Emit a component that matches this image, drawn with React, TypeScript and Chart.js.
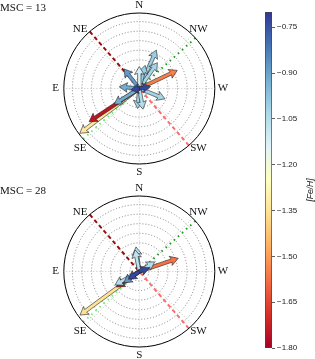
import React, { useEffect, useRef } from 'react';
import { Chart, registerables } from 'chart.js';
Chart.register(...registerables);

// ---------- data ----------
const RMAX = 7.9;
const RINGS = [1, 2, 3, 4, 5, 6, 7];
const SPOKES = [0, 45, 90, 135, 180, 225, 270, 315];
const COMPASS_LABELS = ['W', 'NW', 'N', 'NE', 'E', 'SE', 'S', 'SW'];
const COMPASS_ANGLES = [0, 45, 90, 135, 180, 225, 270, 315];
const LABEL_R = 8.75;

const TITLE_13 = 'MSC = 13';
const ANG_13 = [217, 213.5, 25.5, 66, 55, 76, 90, 128, 175, -22, -95, -80, 212, 10, 190];
const LEN_13 = [7.8, 6.3, 4.4, 4.4, 3.3, 2.5, 2.3, 2.6, 2.1, 2.9, 2.1, 2.2, 3.1, 1.2, 0.9];
const FEH_13 = [-1.33, -1.75, -1.55, -1.0, -1.02, -1.0, -1.12, -0.88, -0.92, -1.02, -1.02, -1.05, -0.92, -0.73, -0.73];

const TITLE_28 = 'MSC = 28';
const ANG_28 = [216.3, 214, 18.7, 97.6, 101, 32, 209, 216, 215, 20];
const LEN_28 = [7.7, 2.9, 4.3, 2.6, 2.3, 1.9, 2.9, 2.0, 1.4, 1.1];
const FEH_28 = [-1.35, -1.75, -1.57, -1.05, -1.07, -1.05, -1.05, -0.88, -0.73, -0.73];

const RED_LINE_ANGLE = 131;
const GREEN_LINE_ANGLE = 42;

const FEH_MIN = -1.8;
const FEH_MAX = -0.7;
const CBAR_TICKS = [-1.8, -1.65, -1.5, -1.35, -1.2, -1.05, -0.9, -0.75];
const CBAR_LABEL = '[Fe/H]';

const RDYLBU = ['#a50026', '#d73027', '#f46d43', '#fdae61', '#fee090', '#ffffbf', '#e0f3f8', '#abd9e9', '#74add1', '#4575b4', '#313695'];

// ---------- helpers ----------
function hexToRgb(h: string) {
  const n = parseInt(h.slice(1), 16);
  return [(n >> 16) & 255, (n >> 8) & 255, n & 255];
}
function cmap(v: number) {
  let t = (v - FEH_MIN) / (FEH_MAX - FEH_MIN);
  t = Math.max(0, Math.min(1, t));
  const f = t * (RDYLBU.length - 1);
  const i = Math.min(RDYLBU.length - 2, Math.floor(f));
  const u = f - i;
  const a = hexToRgb(RDYLBU[i]);
  const b = hexToRgb(RDYLBU[i + 1]);
  const c = a.map((x, k) => Math.round(x + (b[k] - x) * u));
  return `rgb(${c[0]},${c[1]},${c[2]})`;
}
const rad = (d: number) => (d * Math.PI) / 180;

function drawArrow(ctx: CanvasRenderingContext2D, x0: number, y0: number, x1: number, y1: number, color: string) {
  const dx = x1 - x0, dy = y1 - y0;
  const L = Math.hypot(dx, dy);
  if (L < 0.5) return;
  const ux = dx / L, uy = dy / L;
  const px = -uy, py = ux;
  let sw = 1.7, hw = 4.8, hl = 8, hal = 7;
  if (L < hl * 1.1) {
    const s = L / (hl * 1.1);
    hl *= s; hal *= s;
  }
  const nx = x1 - ux * hal, ny = y1 - uy * hal;
  const bx = x1 - ux * hl, by = y1 - uy * hl;
  ctx.beginPath();
  ctx.moveTo(x0 + px * sw, y0 + py * sw);
  ctx.lineTo(nx + px * sw, ny + py * sw);
  ctx.lineTo(bx + px * hw, by + py * hw);
  ctx.lineTo(x1, y1);
  ctx.lineTo(bx - px * hw, by - py * hw);
  ctx.lineTo(nx - px * sw, ny - py * sw);
  ctx.lineTo(x0 - px * sw, y0 - py * sw);
  ctx.closePath();
  ctx.fillStyle = color;
  ctx.fill();
  ctx.lineWidth = 0.6;
  ctx.strokeStyle = '#222';
  ctx.setLineDash([]);
  ctx.stroke();
}

const polarPlugin = {
  id: 'polarDecor',
  beforeDatasetsDraw(chart: any) {
    const { ctx } = chart;
    const x = chart.scales.x, y = chart.scales.y;
    const cx = x.getPixelForValue(0), cy = y.getPixelForValue(0);
    const rpx = (r: number) => x.getPixelForValue(r) - cx;
    ctx.save();
    ctx.lineWidth = 0.7;
    ctx.setLineDash([1, 2]);
    ctx.strokeStyle = '#555';
    RINGS.forEach((r) => {
      ctx.beginPath();
      ctx.arc(cx, cy, rpx(r), 0, Math.PI * 2);
      ctx.stroke();
    });
    ctx.strokeStyle = '#aaa';
    SPOKES.forEach((a) => {
      ctx.beginPath();
      ctx.moveTo(cx, cy);
      ctx.lineTo(x.getPixelForValue(RMAX * Math.cos(rad(a))), y.getPixelForValue(RMAX * Math.sin(rad(a))));
      ctx.stroke();
    });
    ctx.restore();
  },
  afterDatasetsDraw(chart: any) {
    const { ctx } = chart;
    const x = chart.scales.x, y = chart.scales.y;
    const cx = x.getPixelForValue(0), cy = y.getPixelForValue(0);
    ctx.save();
    chart.data.datasets.forEach((ds: any, i: number) => {
      if (!ds.quiver) return;
      const el = chart.getDatasetMeta(i).data[0];
      drawArrow(ctx, cx, cy, el.x, el.y, ds.quiverColor);
    });
    ctx.setLineDash([]);
    ctx.strokeStyle = '#000';
    ctx.lineWidth = 1;
    ctx.beginPath();
    ctx.arc(cx, cy, x.getPixelForValue(RMAX) - cx, 0, Math.PI * 2);
    ctx.stroke();
    ctx.fillStyle = '#111';
    ctx.font = '11px "Liberation Serif", "DejaVu Serif", serif';
    ctx.textAlign = 'center';
    ctx.textBaseline = 'middle';
    COMPASS_LABELS.forEach((lab, k) => {
      const a = rad(COMPASS_ANGLES[k]);
      ctx.fillText(lab, x.getPixelForValue(LABEL_R * Math.cos(a)), y.getPixelForValue(LABEL_R * Math.sin(a)));
    });
    const t = chart.options.plugins.polarDecor;
    if (t && t.title) {
      ctx.textAlign = 'left';
      ctx.font = '11px "Liberation Serif", "DejaVu Serif", serif';
      ctx.fillText(t.title, 0, t.titleY);
    }
    ctx.restore();
  },
};

function halfLine(angle: number, color: string, dash: number[], width: number) {
  return {
    type: 'scatter',
    data: [
      { x: RMAX * Math.cos(rad(angle)), y: RMAX * Math.sin(rad(angle)) },
      { x: 0, y: 0 },
    ],
    showLine: true,
    borderColor: color,
    borderWidth: width,
    borderDash: dash,
    pointRadius: 0,
    fill: false,
  };
}

function PolarPanel(props: { title: string; titleY: number; angles: number[]; lengths: number[]; fehs: number[]; top: number; height: number; padTop: number; padBottom: number }) {
  const ref = useRef<HTMLCanvasElement>(null);
  useEffect(() => {
    const datasets: any[] = [
      halfLine(RED_LINE_ANGLE, '#9a0d0d', [4, 3], 2),
      halfLine(RED_LINE_ANGLE + 180, '#ff6b6b', [4, 3], 2),
      halfLine(GREEN_LINE_ANGLE, '#1f9a1f', [1.5, 4], 2),
      halfLine(GREEN_LINE_ANGLE + 180, '#6cf06c', [1.5, 4], 2),
    ];
    props.angles.forEach((a, i) => {
      datasets.push({
        type: 'scatter',
        quiver: true,
        quiverColor: cmap(props.fehs[i]),
        data: [{ x: props.lengths[i] * Math.cos(rad(a)), y: props.lengths[i] * Math.sin(rad(a)) }],
        pointRadius: 0,
      });
    });
    const chart = new Chart(ref.current!, {
      type: 'scatter',
      data: { datasets },
      options: {
        animation: false,
        responsive: false,
        events: [],
        layout: { padding: { left: 63.8, right: 240 - 214.8, top: props.padTop, bottom: props.padBottom } },
        scales: {
          x: { type: 'linear', min: -RMAX, max: RMAX, display: false },
          y: { type: 'linear', min: -RMAX, max: RMAX, display: false },
        },
        plugins: {
          legend: { display: false },
          tooltip: { enabled: false },
          polarDecor: { title: props.title, titleY: props.titleY },
        } as any,
      } as any,
      plugins: [polarPlugin as any],
    });
    return () => chart.destroy();
  }, []);
  return (
    <canvas
      ref={ref}
      width={240}
      height={props.height}
      style={{ position: 'absolute', left: 0, top: props.top, width: 240, height: props.height }}
    />
  );
}

const cbarLabelPlugin = {
  id: 'cbarLabel',
  afterDraw(chart: any) {
    const { ctx } = chart;
    const a = chart.chartArea;
    ctx.save();
    ctx.translate(56, (a.top + a.bottom) / 2 + 10);
    ctx.rotate(-Math.PI / 2);
    ctx.fillStyle = '#222';
    ctx.font = 'italic 8.5px "Liberation Sans", "DejaVu Sans", sans-serif';
    ctx.textAlign = 'center';
    ctx.textBaseline = 'middle';
    ctx.fillText(CBAR_LABEL, 0, 0);
    ctx.restore();
  },
};

function Colorbar() {
  const ref = useRef<HTMLCanvasElement>(null);
  useEffect(() => {
    const chart = new Chart(ref.current!, {
      type: 'bar',
      data: {
        labels: [''],
        datasets: [
          {
            data: [[FEH_MIN, FEH_MAX]] as any,
            backgroundColor: (c: any) => {
              const a = c.chart.chartArea;
              if (!a) return RDYLBU[5];
              const g = c.chart.ctx.createLinearGradient(0, a.bottom, 0, a.top);
              RDYLBU.forEach((col, i) => g.addColorStop(i / (RDYLBU.length - 1), col));
              return g;
            },
            borderColor: '#444',
            borderWidth: 1,
            borderSkipped: false,
            barPercentage: 1,
            categoryPercentage: 1,
          },
        ],
      },
      options: {
        animation: false,
        responsive: false,
        events: [],
        layout: { padding: { left: 10, right: 0, top: 12, bottom: 11 } },
        scales: {
          x: { display: false },
          y: {
            position: 'right',
            min: FEH_MIN,
            max: FEH_MAX,
            afterBuildTicks: (s: any) => {
              s.ticks = CBAR_TICKS.map((v) => ({ value: v }));
            },
            afterFit: (s: any) => {
              s.width = 43;
            },
            grid: { drawOnChartArea: false, drawTicks: true, tickLength: 3, color: '#333', lineWidth: 0.8 },
            border: { display: false },
            ticks: {
              padding: 2,
              color: '#222',
              font: { family: '"Liberation Sans", "DejaVu Sans", sans-serif', size: 8 },
              callback: (v: any) => Number(v).toFixed(2).replace('-', '\u2212'),
            },
          },
        },
        plugins: { legend: { display: false }, tooltip: { enabled: false } },
      } as any,
      plugins: [cbarLabelPlugin as any],
    });
    return () => chart.destroy();
  }, []);
  return <canvas ref={ref} width={60} height={359} style={{ position: 'absolute', left: 255, top: 0, width: 60, height: 359 }} />;
}

export default function App() {
  useEffect(() => {
    document.body.style.margin = '0';
  }, []);
  return (
    <div style={{ position: 'absolute', left: 0, top: 0, width: 315, height: 359, background: '#fff', overflow: 'hidden' }}>
      <PolarPanel title={TITLE_13} titleY={8} angles={ANG_13} lengths={LEN_13} fehs={FEH_13} top={0} height={180} padTop={13} padBottom={16} />
      <PolarPanel title={TITLE_28} titleY={11} angles={ANG_28} lengths={LEN_28} fehs={FEH_28} top={180} height={179} padTop={16} padBottom={12} />
      <Colorbar />
    </div>
  );
}
